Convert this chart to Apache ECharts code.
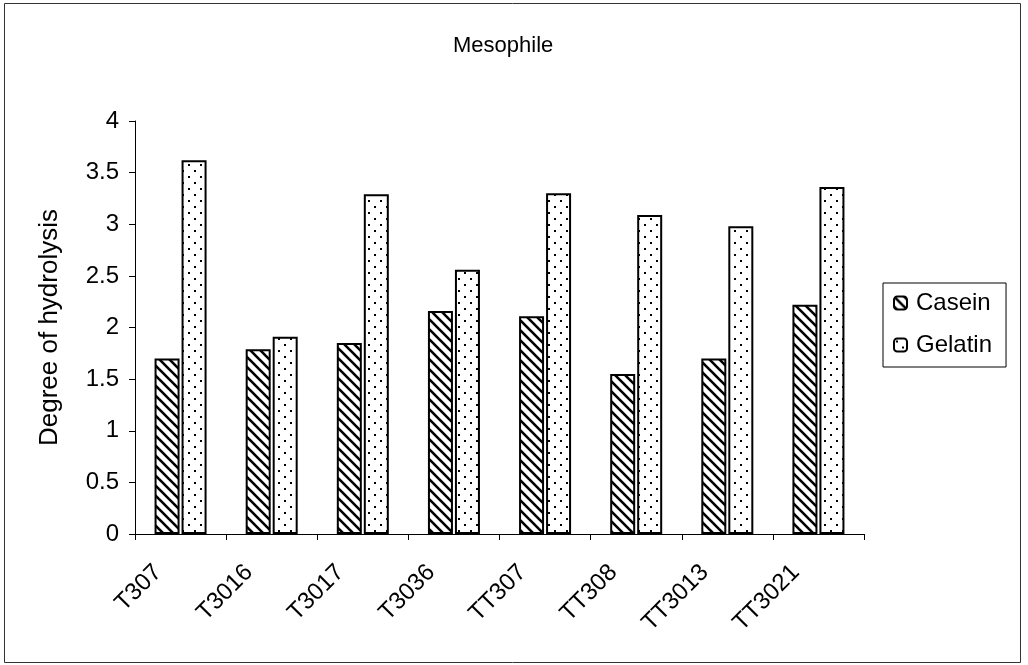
<!DOCTYPE html>
<html>
<head>
<meta charset="utf-8">
<script src="https://cdn.jsdelivr.net/npm/echarts@6/dist/echarts.min.js"></script>
<style>
html,body{margin:0;padding:0;background:#fff;}
#chart{width:1028px;height:665px;}
</style>
</head>
<body>
<div id="chart"></div>
<script>
const categories = ['T307','T3016','T3017','T3036','TT307','TT308','TT3013','TT3021'];
const casein = [1.70, 1.79, 1.85, 2.16, 2.11, 1.55, 1.70, 2.22];
const gelatin = [3.62, 1.91, 3.29, 2.56, 3.30, 3.09, 2.98, 3.36];
const yTicks = {min: 0, max: 4, interval: 0.5};

function hatchPattern() {
  const s = 10;
  const c = document.createElement('canvas');
  c.width = s; c.height = s;
  const ctx = c.getContext('2d');
  ctx.fillStyle = '#fff';
  ctx.fillRect(0, 0, s, s);
  ctx.strokeStyle = '#000';
  ctx.lineWidth = 2.6;
  for (let k = -1; k <= 1; k++) {
    ctx.beginPath();
    ctx.moveTo(-s, -s + k * s);
    ctx.lineTo(2 * s, 2 * s + k * s);
    ctx.stroke();
  }
  return c;
}
function dotPattern() {
  const s = 12;
  const c = document.createElement('canvas');
  c.width = s; c.height = s;
  const ctx = c.getContext('2d');
  ctx.fillStyle = '#fff';
  ctx.fillRect(0, 0, s, s);
  ctx.fillStyle = '#000';
  ctx.fillRect(2, 2, 2, 2);
  ctx.fillRect(8, 8, 2, 2);
  return c;
}

const font = '"Liberation Sans", Arial, sans-serif';
const chart = echarts.init(document.getElementById('chart'), null, {renderer: 'canvas'});
chart.setOption({
  backgroundColor: '#fff',
  animation: false,
  title: {
    text: 'Mesophile',
    left: 448, top: 30,
    textStyle: {fontFamily: font, fontSize: 22, fontWeight: 'normal', color: '#000'}
  },
  legend: {
    orient: 'vertical',
    left: 883, top: 283,
    itemWidth: 13, itemHeight: 13,
    itemGap: 18,
    padding: [8, 14, 10, 10],
    borderColor: '#000', borderWidth: 1,
    textStyle: {fontFamily: font, fontSize: 24, color: '#000', padding: [0, 0, 0, 4]},
    data: ['Casein', 'Gelatin']
  },
  graphic: [{
    type: 'rect',
    shape: {x: 4.5, y: 3.5, width: 1016, height: 659},
    style: {fill: 'none', stroke: '#333', lineWidth: 1},
    silent: true
  }],
  grid: {left: 135, right: 164, top: 121, bottom: 131},
  xAxis: {
    type: 'category',
    data: categories,
    axisLine: {lineStyle: {color: '#000', width: 1}},
    axisTick: {show: true, length: 6, lineStyle: {color: '#000'}},
    axisLabel: {
      rotate: 45, margin: 12,
      padding: [0, 32, 0, 0],
      fontFamily: font, fontSize: 24, color: '#000'
    }
  },
  yAxis: {
    type: 'value',
    min: yTicks.min, max: yTicks.max, interval: yTicks.interval,
    name: 'Degree of hydrolysis',
    nameLocation: 'middle',
    nameGap: 72,
    nameTextStyle: {fontFamily: font, fontSize: 26, color: '#000'},
    axisLine: {show: true, lineStyle: {color: '#000', width: 1}},
    axisTick: {show: true, length: 6, lineStyle: {color: '#000'}},
    splitLine: {show: false},
    axisLabel: {margin: 16, fontFamily: font, fontSize: 24, color: '#000'}
  },
  series: [
    {
      name: 'Casein', type: 'bar', data: casein,
      barWidth: 25, barGap: '8%',
      itemStyle: {color: {image: hatchPattern(), repeat: 'repeat'}, borderColor: '#000', borderWidth: 2}
    },
    {
      name: 'Gelatin', type: 'bar', data: gelatin,
      barWidth: 25,
      itemStyle: {color: {image: dotPattern(), repeat: 'repeat'}, borderColor: '#000', borderWidth: 2}
    }
  ]
});
</script>
</body>
</html>
